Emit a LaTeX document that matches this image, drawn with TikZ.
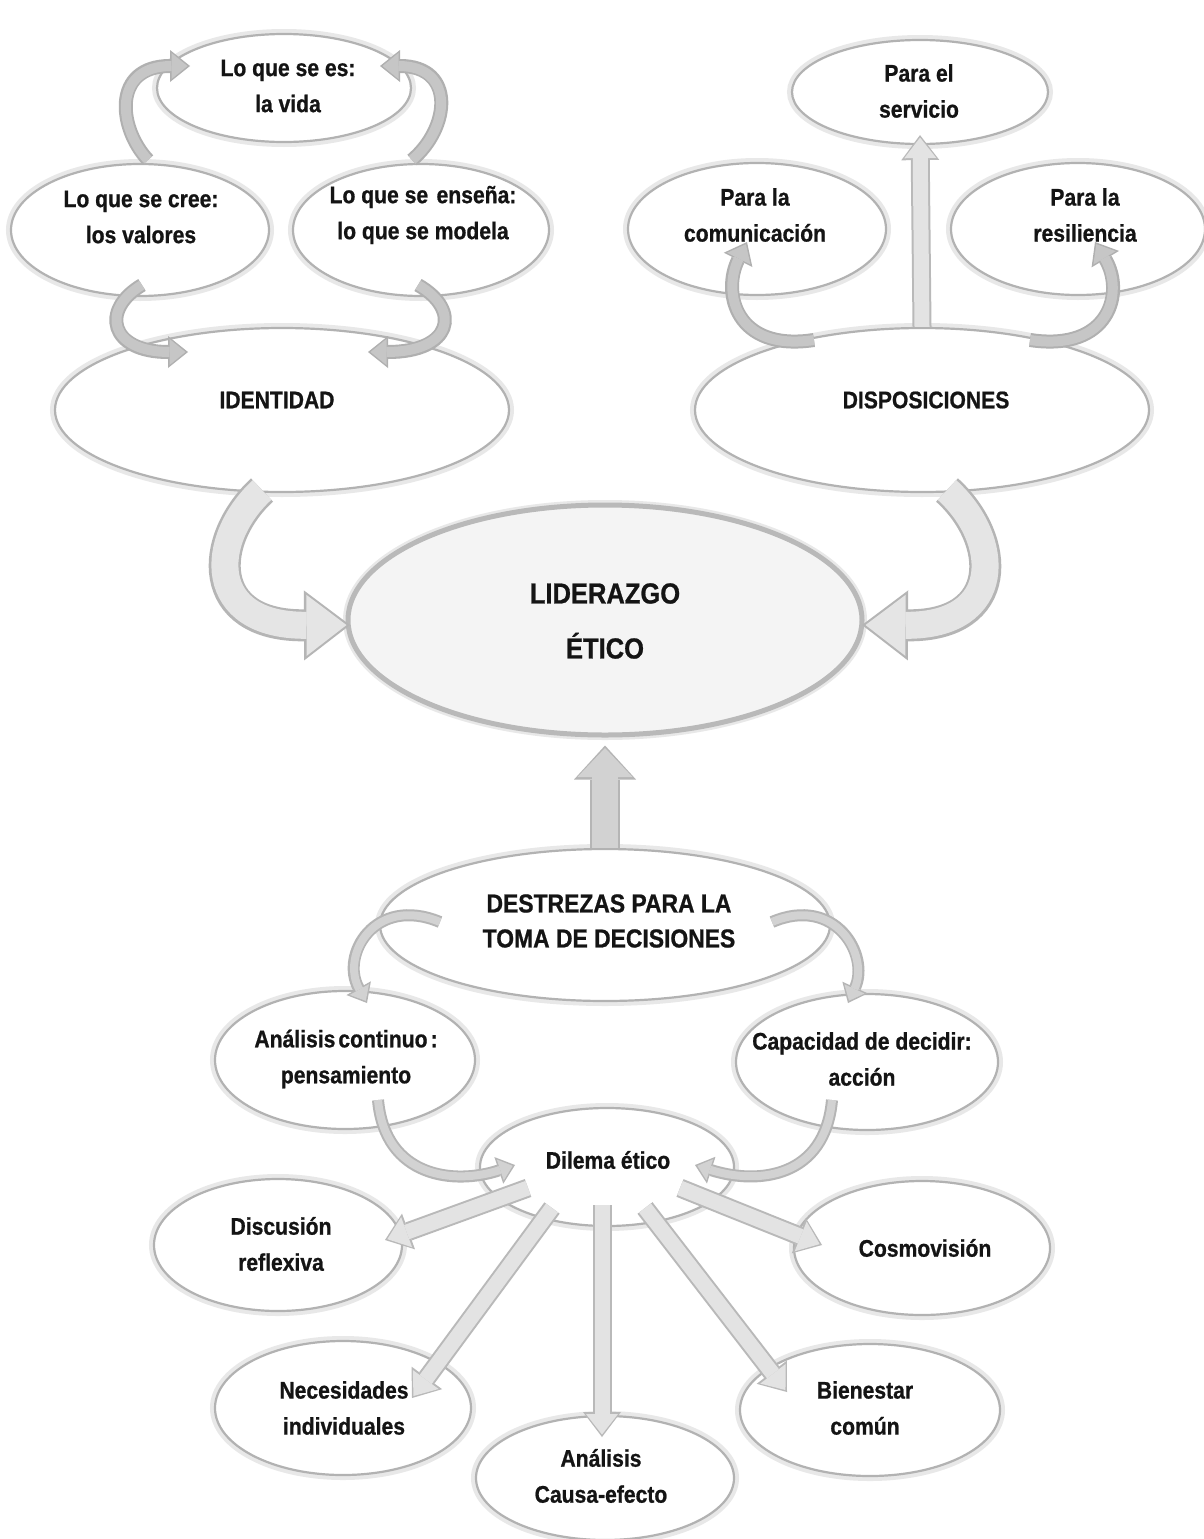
\documentclass[tikz,border=0pt]{standalone}
\usepackage{fontspec}
\newfontfamily\nar{Liberation Sans}[FakeStretch=0.88,BoldFeatures={FakeBold=0.8}]
\usetikzlibrary{shapes.geometric,arrows.meta,calc}
\newcommand\barw[2]{\draw[#1o] #2; \draw[#1i] #2;}
\begin{document}
\begin{tikzpicture}[x=1pt,y=-1pt,
  bub/.style={ellipse, draw=gray!60, line width=2.2pt, fill=white, inner sep=0pt,
    preaction={draw=black!9, line width=10pt}},
  txt/.style={font=\nar\bfseries\fontsize{24pt}{36pt}\selectfont, align=center, inner sep=0pt, text=black!92},
  % small curved arrows
  sao/.style={draw=gray!62, line width=14pt, -{Triangle[length=20pt,width=32pt,line width=0pt]}},
  sai/.style={draw=gray!45, line width=10pt, shorten >=2.5pt, -{Triangle[length=16pt,width=26pt,line width=0pt]}},
  % thin curved arrows (bottom)
  cao/.style={draw=gray!58, line width=12pt, -{Triangle[length=17pt,width=28pt,line width=0pt]}},
  cai/.style={draw=gray!35, line width=8pt, shorten >=2.5pt, -{Triangle[length=13pt,width=22pt,line width=0pt]}},
  % big curved arrows
  bao/.style={draw=gray!58, line width=32pt, -{Triangle[length=46pt,width=70pt,line width=0pt]}},
  bai/.style={draw=gray!20, line width=27pt, shorten >=3.5pt, -{Triangle[length=40pt,width=61pt,line width=0pt]}},
  % big straight up arrow
  uao/.style={draw=gray!58, line width=30pt, -{Triangle[length=34pt,width=62pt,line width=0pt]}},
  uai/.style={draw=gray!35, line width=26pt, shorten >=2.5pt, -{Triangle[length=29pt,width=55pt,line width=0pt]}},
  % straight thin arrows
  tao/.style={draw=gray!55, line width=19pt, -{Triangle[length=25pt,width=38pt,line width=0pt]}},
  tai/.style={draw=gray!22, line width=15pt, shorten >=2.5pt, -{Triangle[length=20.5pt,width=32pt,line width=0pt]}}
]
\useasboundingbox (0,0) rectangle (1204,1539);
\fill[white] (0,0) rectangle (1204,1539);

% ---------- ellipses ----------
\node[bub, minimum width=254pt, minimum height=108pt] (vida) at (284,88) {};
\node[bub, minimum width=258pt, minimum height=132pt] (cree) at (140,230) {};
\node[bub, minimum width=256pt, minimum height=132pt] (ense) at (421,230) {};
\node[bub, minimum width=454pt, minimum height=164pt] (iden) at (282,410) {};
\node[bub, minimum width=256pt, minimum height=104pt] (serv) at (920,92) {};
\node[bub, minimum width=258pt, minimum height=132pt] (comu) at (757,229) {};
\node[bub, minimum width=254pt, minimum height=132pt] (resi) at (1078,229) {};
\node[bub, minimum width=454pt, minimum height=164pt] (disp) at (922,410) {};
\node[bub, minimum width=514pt, minimum height=230pt, fill=gray!9, line width=5pt, draw=gray!55] (lid) at (605,620) {};
\node[bub, minimum width=450pt, minimum height=152pt] (dest) at (605,925) {};
\node[bub, minimum width=260pt, minimum height=138pt] (anal) at (345,1060) {};
\node[bub, minimum width=262pt, minimum height=136pt] (capa) at (867,1062) {};
\node[bub, minimum width=254pt, minimum height=118pt] (dil) at (607,1167) {};
\node[bub, minimum width=248pt, minimum height=132pt] (disc) at (278,1245) {};
\node[bub, minimum width=256pt, minimum height=134pt] (cosm) at (922,1248) {};
\node[bub, minimum width=256pt, minimum height=134pt] (nece) at (343,1408) {};
\node[bub, minimum width=258pt, minimum height=124pt] (caus) at (605,1478) {};
\node[bub, minimum width=260pt, minimum height=132pt] (bien) at (870,1410) {};

% ---------- curved arrows: identidad group ----------
\barw{sa}{($(cree)+(8,-70)$) .. controls (118,128) and (112,66) .. ($(vida)+(-94,-22)$)}
\barw{sa}{($(ense)+(-9,-70)$) .. controls (450,128) and (456,66) .. ($(vida)+(96,-22)$)}
\barw{sa}{($(cree)+(2,55)$) .. controls (100,310) and (110,352) .. ($(iden)+(-94,-58)$)}
\barw{sa}{($(ense)+(-3,55)$) .. controls (462,310) and (452,352) .. ($(iden)+(86,-58)$)}

% ---------- disposiciones group ----------
\barw{sa}{($(disp)+(-108,-70)$) .. controls (735,352) and (722,292) .. ($(comu)+(-10,13)$)}
\barw{sa}{($(disp)+(108,-70)$) .. controls (1110,352) and (1125,292) .. ($(resi)+(17,13)$)}
\barw{ta}{(disp.north) -- ($(serv.south)+(0,-10)$)}

% ---------- into liderazgo ----------
\barw{ba}{($(iden)+(-20,80)$) .. controls (208,540) and (205,626) .. ($(lid)+(-255,5)$)}
\barw{ba}{($(disp)+(25,80)$) .. controls (1002,540) and (1005,626) .. ($(lid)+(257,5)$)}
\barw{ua}{(dest.north) -- ($(lid.south)+(0,8)$)}

% ---------- destrezas group ----------
\barw{ca}{($(dest)+(-165,-3)$) .. controls (375,895) and (340,955) .. ($(anal)+(22,-57)$)}
\barw{ca}{($(dest)+(167,-3)$) .. controls (835,895) and (870,955) .. ($(capa)+(-19,-59)$)}
\barw{ca}{($(anal)+(33,40)$) .. controls (385,1178) and (455,1185) .. ($(dil)+(-92,-2)$)}
\barw{ca}{($(capa)+(-35,38)$) .. controls (825,1178) and (758,1185) .. ($(dil)+(88,-2)$)}

% ---------- from dilema ----------
\barw{ta}{($(dil)+(-79,21)$) -- ($(disc)+(107,-5)$)}
\barw{ta}{($(dil)+(73,21)$) -- ($(cosm)+(-100,-3)$)}
\barw{ta}{($(dil)+(-55,41)$) -- ($(nece)+(69,-10)$)}
\barw{ta}{($(dil)+(-5,38)$) -- ($(caus)+(-3,-41)$)}
\barw{ta}{($(dil)+(38,41)$) -- ($(bien)+(-83,-18)$)}

% ---------- texts ----------
\node[txt] (tvida) at (288,86) {Lo que se es:\\la vida};
\node[txt] (tcree) at (141,217) {Lo que se cree:\\los valores};
\node[txt] (tense) at (423,215) {Lo que se\hspace{0.35em}enseña:\\lo que se modela};
\node[txt] (tiden) at (277,400) {IDENTIDAD};
\node[txt] (tserv) at (919,91) {Para el\\servicio};
\node[txt] (tcomu) at (755,215) {Para la\\comunicación};
\node[txt] (tresi) at (1085,215) {Para la\\resiliencia};
\node[txt] (tdisp) at (926,400) {DISPOSICIONES};
\node[txt, font=\nar\bfseries\fontsize{29pt}{55pt}\selectfont] (tlid) at (605,621) {LIDERAZGO\\ÉTICO};
\node[txt, font=\nar\bfseries\fontsize{26pt}{35pt}\selectfont] (tdest) at (609,921) {DESTREZAS PARA LA\\TOMA DE DECISIONES};
\node[txt] (tanal) at (346,1059) {Análisis\hspace{3pt}continuo\hspace{3pt}:\\pensamiento};
\node[txt] (tcapa) at (862,1059) {Capacidad de decidir:\\acción};
\node[txt] (tdil) at (608,1160) {Dilema ético};
\node[txt] (tdisc) at (281,1244) {Discusión\\reflexiva};
\node[txt] (tcosm) at (925,1248) {Cosmovisión};
\node[txt] (tnece) at (344,1408) {Necesidades\\individuales};
\node[txt] (tcaus) at (601,1476) {Análisis\\Causa-efecto};
\node[txt] (tbien) at (865,1408) {Bienestar\\común};
\end{tikzpicture}
\end{document}
